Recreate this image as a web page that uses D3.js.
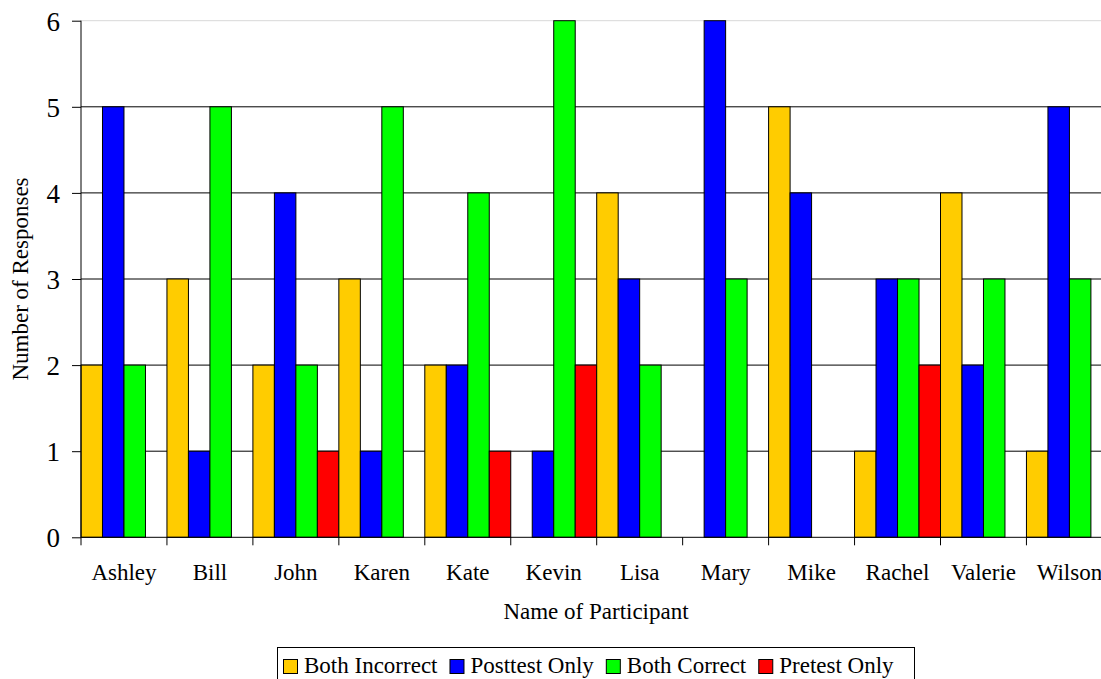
<!DOCTYPE html>
<html><head><meta charset="utf-8">
<script src="https://cdn.jsdelivr.net/npm/d3@7"></script>
<style>body{margin:0;background:#fff;}svg{display:block;font-family:"Liberation Serif","Times New Roman",serif;}</style>
</head><body>
<svg id="c" width="1101" height="679"></svg>
<script>
const categories = ["Ashley","Bill","John","Karen","Kate","Kevin","Lisa","Mary","Mike","Rachel","Valerie","Wilson"];
const seriesNames = ["Both Incorrect","Posttest Only","Both Correct","Pretest Only"];
const bothIncorrect = [2,3,2,3,2,0,4,0,5,1,4,1];
const posttestOnly  = [5,1,4,1,2,1,3,6,4,3,2,5];
const bothCorrect   = [2,5,2,5,4,6,2,3,0,3,3,3];
const pretestOnly   = [0,0,1,0,1,2,0,0,0,2,0,0];
const yTicks = [0,1,2,3,4,5,6];
const colors = ["#FFCC00","#0000FF","#00FF00","#FF0000"];

(function(){
const seriesValues = [bothIncorrect, posttestOnly, bothCorrect, pretestOnly];
const svg = d3.select("#c");
const pLeft = 81, pTop = 20.7, pBottom = 537.3, step = 85.95;
const x = d3.scaleBand().domain(categories).range([pLeft, pLeft + step*categories.length]).paddingInner(0).paddingOuter(0);
const xs = d3.scaleBand().domain(seriesNames).range([0, x.bandwidth()]).padding(0);
const y = d3.scaleLinear().domain([0,6]).range([pBottom, pTop]);

// gridlines
svg.append("g").selectAll("line").data(yTicks.filter(d=>d>0)).join("line")
  .attr("x1", pLeft).attr("x2", 1101)
  .attr("y1", d=>y(d)).attr("y2", d=>y(d))
  .attr("stroke", d=> d===6 ? "#d8d8d8" : "#000").attr("stroke-width", 1);

// bars
const rows = [];
categories.forEach((c,i)=>seriesNames.forEach((s,j)=>{ if(seriesValues[j][i]>0) rows.push({c,s,v:seriesValues[j][i],col:colors[j]}); }));
svg.append("g").selectAll("rect").data(rows).join("rect")
  .attr("x", d=>x(d.c)+xs(d.s)).attr("width", xs.bandwidth())
  .attr("y", d=>y(d.v)).attr("height", d=>y(0)-y(d.v))
  .attr("fill", d=>d.col).attr("stroke","#000").attr("stroke-width",1);

// y axis
const ya = svg.append("g").attr("transform",`translate(${pLeft},0)`)
  .call(d3.axisLeft(y).tickValues(yTicks).tickSize(9).tickPadding(12).tickFormat(d3.format("d")));
ya.select(".domain").attr("stroke","#000").attr("d",`M0,${pTop}V${pBottom}`);
ya.selectAll("text").attr("font-size",27).attr("fill","#000").attr("font-family","Liberation Serif, serif").attr("dy","0.35em");

// x axis
const xa = svg.append("g").attr("transform",`translate(0,${pBottom})`)
  .call(d3.axisBottom(x).tickSize(0).tickPadding(0));
xa.select(".domain").attr("d",`M${pLeft},0H1101`).attr("stroke","#000");
xa.selectAll(".tick text").attr("font-size",23).attr("fill","#000").attr("font-family","Liberation Serif, serif").attr("y",43).attr("dy",0);
svg.append("g").selectAll("line").data(categories).join("line")
  .attr("x1", d=>x(d)).attr("x2", d=>x(d)).attr("y1", pBottom).attr("y2", pBottom+8).attr("stroke","#000");

// axis titles
svg.append("text").attr("x",596).attr("y",619).attr("text-anchor","middle").attr("font-size",23).text("Name of Participant");
svg.append("text").attr("transform","translate(28,279) rotate(-90)").attr("text-anchor","middle").attr("font-size",23).text("Number of Responses");

// legend
const lg = svg.append("g");
lg.append("rect").attr("x",277.5).attr("y",647.5).attr("width",637).attr("height",50).attr("fill","#fff").attr("stroke","#000");
let lx = 283;
seriesNames.forEach((s,j)=>{
  lg.append("rect").attr("x",lx+0.5).attr("y",659.5).attr("width",14).attr("height",14).attr("fill",colors[j]).attr("stroke","#000");
  const t = lg.append("text").attr("x",lx+21).attr("y",673).attr("font-size",23).text(s);
  lx += 21 + t.node().getComputedTextLength() + 12;
});
})();
</script>
</body></html>
